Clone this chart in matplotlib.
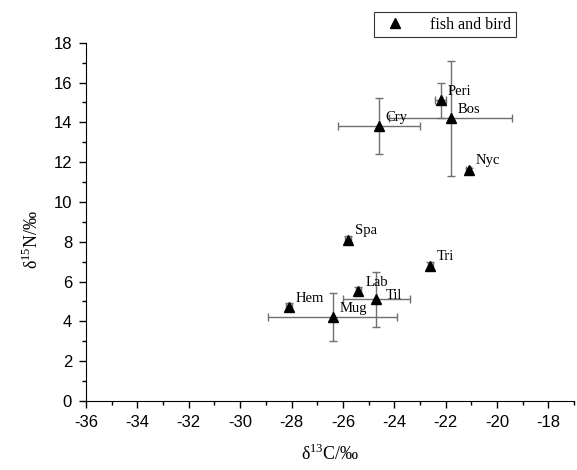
import numpy as np
import matplotlib
matplotlib.use('Agg')
from matplotlib import pyplot as plt
from matplotlib.ticker import MultipleLocator

names = ['Peri', 'Bos', 'Cry', 'Nyc', 'Spa', 'Tri', 'Lab', 'Til', 'Hem', 'Mug']
d13c = [-22.2, -21.8, -24.6, -21.1, -25.8, -22.6, -25.4, -24.7, -28.1, -26.4]
d15n = [15.1, 14.2, 13.8, 11.6, 8.1, 6.8, 5.5, 5.1, 4.7, 4.2]
xerr = [0.2, 2.4, 1.6, 0.1, 0.1, 0.1, 0.1, 1.3, 0.1, 2.5]
yerr = [0.9, 2.9, 1.4, 0.1, 0.2, 0.2, 0.2, 1.4, 0.2, 1.2]

serif = 'Liberation Serif'
sans = 'Liberation Sans'
plt.rcParams['axes.unicode_minus'] = False
plt.rcParams['mathtext.fontset'] = 'custom'
plt.rcParams['mathtext.rm'] = serif

fig = plt.figure(figsize=(5.77, 4.70), dpi=100)
ax = fig.add_axes([0.149, 0.147, 0.846, 0.762])

ax.errorbar(d13c, d15n, xerr=xerr, yerr=yerr, fmt='none', ecolor='#707070',
            elinewidth=1, capsize=3, capthick=1, zorder=2)
ax.plot(d13c, d15n, '^', color='black', markersize=7, linestyle='none',
        label='fish and bird', zorder=3)

for n, x, y in zip(names, d13c, d15n):
    off = (7, -2) if n == 'Til' else (5, 2)
    ax.annotate(n, (x, y), xytext=off, textcoords='offset points',
                ha='left', va='bottom', fontsize=10.5, family=serif)

ax.set_xlim(-36, -17)
ax.set_ylim(0, 18)
ax.xaxis.set_major_locator(MultipleLocator(2))
ax.xaxis.set_minor_locator(MultipleLocator(1))
ax.yaxis.set_major_locator(MultipleLocator(2))
ax.yaxis.set_minor_locator(MultipleLocator(1))
ax.spines['top'].set_visible(False)
ax.spines['right'].set_visible(False)
ax.tick_params(which='major', direction='out', length=5, width=1, pad=5)
ax.tick_params(which='minor', direction='out', length=3, width=1)
for lbl in ax.get_xticklabels() + ax.get_yticklabels():
    lbl.set_family(sans)
    lbl.set_fontsize(12)

ax.set_xlabel('δ$^{13}$C/‰', family=serif, fontsize=13, labelpad=10)
ax.set_ylabel('δ$^{15}$N/‰', family=serif, fontsize=13)
ax.yaxis.set_label_coords(-0.09, 0.45)

leg = fig.legend(loc='upper left', bbox_to_anchor=(0.635, 0.992),
                 prop={'family': serif, 'size': 11.5}, fancybox=False,
                 edgecolor='black', handletextpad=1.2, borderpad=0.3)
leg.get_frame().set_linewidth(0.8)

fig.savefig('out.png', dpi=100)
